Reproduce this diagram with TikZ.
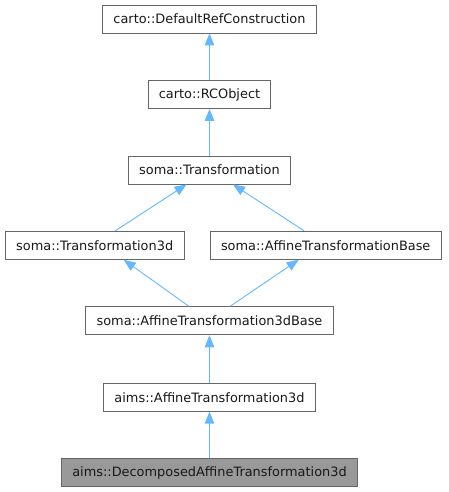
\documentclass[tikz,border=0pt]{standalone}
\usepackage{fontspec}
\setmainfont{DejaVu Sans}
\usepackage{tikz}
\usetikzlibrary{arrows.meta,positioning}
\definecolor{edge-blue}{HTML}{63B8FF}
\definecolor{box-border}{HTML}{666666}
\definecolor{box-focus}{HTML}{999999}
\tikzset{
  class-box/.style={draw=box-border, fill=white, line width=0.9pt, minimum height=28pt,
    inner xsep=10.8pt, inner ysep=0pt, font=\fontsize{12.9}{15}\selectfont, text=black!90},
  class-focus/.style={class-box, fill=box-focus},
  inherit/.style={draw=edge-blue, line width=0.9pt,
    -{Triangle[length=12pt,width=9.5pt,fill=edge-blue]}}
}

\begin{document}
\begin{tikzpicture}[x=1pt, y=-1pt]
  \useasboundingbox (0,0) rectangle (448,492);

  % Base classes
  \node[class-box] (drc) at (209.5,19) {carto::DefaultRefConstruction};
  \node[class-box] (rco) at (209.5,94.5) {carto::RCObject};
  \node[class-box] (tr) at (209.5,170) {soma::Transformation};

  % Second level
  \node[class-box] (tr3) at (94.7,245.3) {soma::Transformation3d};
  \node[class-box] (atb) at (325.7,245.3) {soma::AffineTransformationBase};

  % Derived classes
  \node[class-box] (at3b) at (209.5,320.8) {soma::AffineTransformation3dBase};
  \node[class-box] (at3) at (209.5,397.2) {aims::AffineTransformation3d};
  \node[class-focus] (dat3) at (209.5,472.8) {aims::DecomposedAffineTransformation3d};

  % Inheritance
  \draw[inherit] (rco.north) -- (drc.south);
  \draw[inherit] (tr.north) -- (rco.south);
  \draw[inherit] ([xshift=20.5pt]tr3.north) -- ([xshift=-23pt]tr.south);
  \draw[inherit] ([xshift=-21.5pt]atb.north) -- ([xshift=23.5pt]tr.south);
  \draw[inherit] ([xshift=-20.5pt]at3b.north) -- ([xshift=29pt]tr3.south);
  \draw[inherit] ([xshift=20.5pt]at3b.north) -- ([xshift=-27pt]atb.south);
  \draw[inherit] (at3.north) -- (at3b.south);
  \draw[inherit] (dat3.north) -- (at3.south);
\end{tikzpicture}
\end{document}
